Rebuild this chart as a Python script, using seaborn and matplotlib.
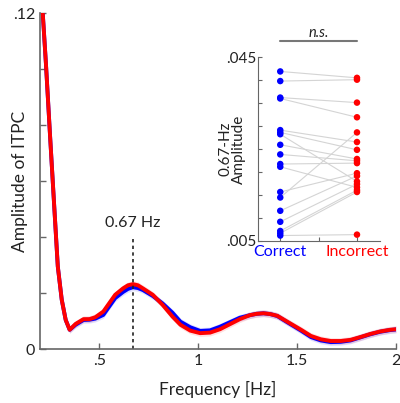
import numpy as np
import pandas as pd
import matplotlib
matplotlib.use("Agg")
import matplotlib.pyplot as plt
import seaborn as sns

# ITPC spectra
freqs = [0.213, 0.23, 0.25, 0.27, 0.29, 0.31, 0.33, 0.35, 0.38, 0.42, 0.45, 0.48,
         0.52, 0.55, 0.58, 0.62, 0.645, 0.67, 0.695, 0.72, 0.77, 0.82, 0.87, 0.91,
         0.96, 1.01, 1.06, 1.11, 1.16, 1.21, 1.26, 1.295, 1.33, 1.365, 1.40, 1.45,
         1.52, 1.57, 1.62, 1.67, 1.72, 1.77, 1.82, 1.87, 1.92, 1.97, 2.0]
itpc_incorrect = [0.121, 0.102, 0.0773, 0.0534, 0.0296, 0.0177, 0.0105, 0.0070, 0.0091,
                  0.0108, 0.0108, 0.0115, 0.0135, 0.0165, 0.0195, 0.0218, 0.0229, 0.0233,
                  0.0229, 0.0218, 0.0195, 0.0159, 0.0117, 0.0088, 0.0067, 0.0058, 0.0060,
                  0.0072, 0.0090, 0.0108, 0.0122, 0.0127, 0.0129, 0.0126, 0.0120, 0.0099,
                  0.0070, 0.0048, 0.0036, 0.0030, 0.0030, 0.0034, 0.0044, 0.0055, 0.0064,
                  0.0070, 0.0072]
itpc_correct = [0.121, 0.102, 0.0773, 0.0534, 0.0296, 0.0177, 0.0105, 0.0070, 0.0088,
                0.0105, 0.0106, 0.0110, 0.0123, 0.0153, 0.0183, 0.0205, 0.0216, 0.0222,
                0.0219, 0.0212, 0.0191, 0.0164, 0.0131, 0.0099, 0.0079, 0.0066, 0.0068,
                0.0081, 0.0097, 0.0113, 0.0122, 0.0127, 0.0129, 0.0126, 0.0119, 0.0097,
                0.0067, 0.0044, 0.0032, 0.0026, 0.0027, 0.0032, 0.0043, 0.0054, 0.0063,
                0.0069, 0.0071]
sem_width = 0.0012

# per-subject 0.67-Hz amplitude
amp_correct = [0.0419, 0.0398, 0.0362, 0.0360, 0.0291, 0.0286, 0.0282, 0.0259, 0.0238,
               0.0217, 0.0211, 0.0156, 0.0144, 0.0115, 0.0091, 0.0071, 0.0066, 0.0061]
amp_incorrect = [0.0405, 0.0401, 0.0351, 0.0319, 0.0265, 0.0248, 0.0179, 0.0228, 0.0224,
                 0.0219, 0.0166, 0.0197, 0.0286, 0.0191, 0.0173, 0.0160, 0.0156, 0.0063]
conditions = ["Correct", "Incorrect"]

BLUE = "#0000ff"
RED = "#ff0000"
AXC = "#666666"

sns.set_style("ticks")
plt.rcParams["font.family"] = ["Lato", "DejaVu Sans"]
plt.rcParams["xtick.direction"] = "in"
plt.rcParams["ytick.direction"] = "in"

fig = plt.figure(figsize=(4.0, 4.03), dpi=100)
ax = fig.add_axes([0.10, 0.133, 0.89, 0.834])

spec = pd.DataFrame({
    "freq": freqs * 2,
    "amp": itpc_correct + itpc_incorrect,
    "cond": ["Correct"] * len(freqs) + ["Incorrect"] * len(freqs),
})

f = np.array(freqs)
for vals, col in [(itpc_correct, BLUE), (itpc_incorrect, RED)]:
    v = np.array(vals)
    ax.fill_between(f, v - sem_width, v + sem_width, color=col, alpha=0.12, lw=0)

sns.lineplot(data=spec, x="freq", y="amp", hue="cond", palette=[BLUE, RED],
             linewidth=2.8, legend=False, ax=ax, sort=False)

ax.plot([0.67, 0.67], [0, 0.04], ls=(0, (2, 2)), color="#222222", lw=1.2)
ax.text(0.67, 0.0425, "0.67 Hz", ha="center", va="bottom", fontsize=11.5, color="#222222")

ax.set_xlim(0.2, 2.0)
ax.set_ylim(0, 0.12)
ax.set_xticks([0.5, 1, 1.5, 2])
ax.set_xticklabels([".5", "1", "1.5", "2"])
ax.set_yticks([0, 0.02, 0.04, 0.06, 0.08, 0.10, 0.12])
ax.set_yticklabels(["0", "", "", "", "", "", ".12"])
ax.tick_params(colors=AXC, labelcolor="#222222", labelsize=11.5, length=4, width=1)
ax.set_xlabel("Frequency [Hz]", fontsize=12.5, color="#222222", labelpad=9)
ax.set_ylabel("Amplitude of ITPC", fontsize=12.5, color="#222222", labelpad=-11)
sns.despine(ax=ax)
for s in ["left", "bottom"]:
    ax.spines[s].set_color(AXC)
    ax.spines[s].set_linewidth(1.2)

# inset: subject-level amplitudes
ins = fig.add_axes([0.645, 0.403, 0.305, 0.455])
for c, i in zip(amp_correct, amp_incorrect):
    ins.plot([0, 1], [c, i], color="#d4d4d4", lw=0.8, zorder=1)
pts = pd.DataFrame({
    "x": [0] * len(amp_correct) + [1] * len(amp_incorrect),
    "amp": amp_correct + amp_incorrect,
    "cond": ["Correct"] * len(amp_correct) + ["Incorrect"] * len(amp_incorrect),
})
sns.scatterplot(data=pts, x="x", y="amp", hue="cond", palette=[BLUE, RED], s=22,
                edgecolor="none", legend=False, ax=ins, zorder=3)
ins.set_xlim(-0.29, 1.30)
ins.set_ylim(0.005, 0.045)
ins.set_xticks([0, 0.5, 1])
ins.set_xticklabels([])
ins.set_yticks(np.arange(0.005, 0.0451, 0.005))
ins.set_yticklabels([".005"] + [""] * 7 + [".045"])
ins.tick_params(colors=AXC, labelcolor="#222222", labelsize=11, length=3, width=0.8, pad=1)
ins.set_xlabel("")
ins.set_ylabel("0.67-Hz\nAmplitude", fontsize=11, color="#222222", labelpad=-14, linespacing=0.9)
sns.despine(ax=ins)
for s in ["left", "bottom"]:
    ins.spines[s].set_color(AXC)
for xi, (lab, col) in enumerate(zip(conditions, [BLUE, RED])):
    ins.text(xi, 0.004, lab, ha="center", va="top", fontsize=11.5, color=col)
ins.plot([0, 1], [0.0485, 0.0485], color="#777777", lw=1.5, clip_on=False)
ins.text(0.5, 0.0488, "n.s.", ha="center", va="bottom", fontsize=10.5, style="italic",
         color="#222222")

fig.savefig("out.png", dpi=100)
